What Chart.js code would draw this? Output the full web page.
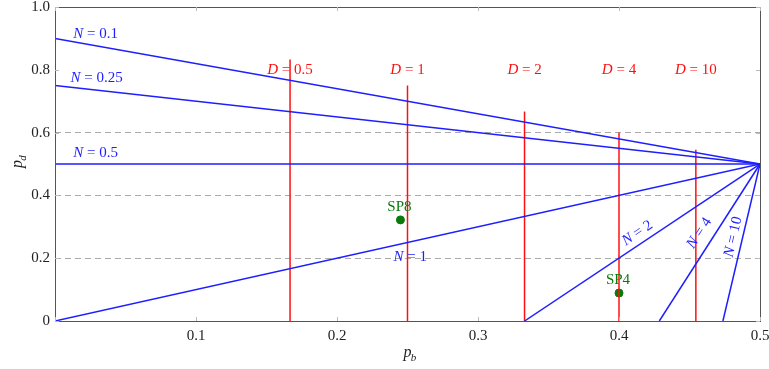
<!DOCTYPE html>
<html lang="en">
  <head>
    <meta charset="UTF-8" />
    <title>p_b vs p_d</title>
    <script src="https://cdn.jsdelivr.net/npm/chart.js"></script>
    <style>
      body { margin: 0; background: #fff; }
      #wrap { width: 769px; height: 369px; }
    </style>
  </head>
  <body>
    <div id="wrap"><canvas id="pChart"></canvas></div>
    <script>
      // N lines, all meet at (0.5, 0.5)
      const nNames = ["0.1", "0.25", "0.5", "1", "2", "4", "10"];
      const nStartX = [0, 0, 0, 0, 0.333, 0.4286, 0.4737];
      const nStartY = [0.9, 0.75, 0.5, 0, 0, 0, 0];
      const meetPoint = { x: 0.5, y: 0.5 };

      // D lines (vertical)
      const dNames = ["0.5", "1", "2", "4", "10"];
      const dX = [0.1667, 0.25, 0.333, 0.4, 0.4545];
      const dTop = [0.833, 0.75, 0.667, 0.6, 0.545];

      // sample points
      const spNames = ["SP8", "SP4"];
      const spX = [0.245, 0.4];
      const spY = [0.322, 0.089];

      const xTicks = [0, 0.1, 0.2, 0.3, 0.4, 0.5];
      const yTicks = [0, 0.2, 0.4, 0.6, 0.8, 1.0];
      const dashedY = [0.2, 0.4, 0.6];

      // label placement in data units
      const nLabelPos = [
        { x: 0.013, y: 0.914, rot: 0, align: "left" },
        { x: 0.011, y: 0.774, rot: 0, align: "left" },
        { x: 0.013, y: 0.535, rot: 0, align: "left" },
        { x: 0.252, y: 0.205, rot: 0, align: "center" },
        { x: 0.413, y: 0.28, rot: -34, align: "center" },
        { x: 0.457, y: 0.28, rot: -57, align: "center" },
        { x: 0.481, y: 0.268, rot: -77, align: "center" },
      ];
      const dLabelY = 0.8;

      const BLUE = "#1e1eff";
      const RED = "#ff1010";
      const GREEN = "#0a7a0a";
      const FONT = "'Liberation Serif', 'DejaVu Serif', serif";

      const datasets = [];
      nNames.forEach((n, i) => {
        datasets.push({
          label: "N = " + n,
          data: [{ x: nStartX[i], y: nStartY[i] }, meetPoint],
          showLine: true,
          borderColor: BLUE,
          borderWidth: 1.5,
          pointRadius: 0,
        });
      });
      dNames.forEach((d, i) => {
        datasets.push({
          label: "D = " + d,
          data: [{ x: dX[i], y: 0 }, { x: dX[i], y: dTop[i] }],
          showLine: true,
          borderColor: RED,
          borderWidth: 1.5,
          pointRadius: 0,
        });
      });
      datasets.push({
        label: "SP",
        data: spX.map((x, i) => ({ x: x, y: spY[i] })),
        showLine: false,
        backgroundColor: GREEN,
        borderColor: GREEN,
        pointRadius: 4,
      });

      function drawMath(ctx, parts, x, y, align) {
        // parts: [{t, italic, color}]
        let total = 0;
        parts.forEach((p) => {
          ctx.font = (p.italic ? "italic " : "") + "15px " + FONT;
          total += ctx.measureText(p.t).width;
        });
        let cx = align === "center" ? x - total / 2 : x;
        ctx.textAlign = "left";
        ctx.textBaseline = "middle";
        parts.forEach((p) => {
          ctx.font = (p.italic ? "italic " : "") + "15px " + FONT;
          ctx.fillStyle = p.color;
          ctx.fillText(p.t, cx, y);
          cx += ctx.measureText(p.t).width;
        });
      }

      const decorPlugin = {
        id: "decor",
        afterDatasetsDraw(chart) {
          const { ctx, chartArea: a, scales } = chart;
          const sx = scales.x, sy = scales.y;
          ctx.save();

          // frame
          ctx.strokeStyle = "#555";
          ctx.lineWidth = 1;
          ctx.strokeRect(a.left + 0.5, a.top + 0.5, a.right - a.left, a.bottom - a.top);

          // inward tick marks
          ctx.strokeStyle = "#bbb";
          xTicks.forEach((v) => {
            const px = Math.round(sx.getPixelForValue(v)) + 0.5;
            ctx.beginPath();
            ctx.moveTo(px, a.bottom); ctx.lineTo(px, a.bottom - 4);
            ctx.moveTo(px, a.top); ctx.lineTo(px, a.top + 4);
            ctx.stroke();
          });
          yTicks.forEach((v) => {
            const py = Math.round(sy.getPixelForValue(v)) + 0.5;
            ctx.beginPath();
            ctx.moveTo(a.left, py); ctx.lineTo(a.left + 4, py);
            ctx.moveTo(a.right, py); ctx.lineTo(a.right - 4, py);
            ctx.stroke();
          });

          // tick labels
          ctx.fillStyle = "#222";
          ctx.font = "15px " + FONT;
          ctx.textAlign = "center";
          ctx.textBaseline = "middle";
          xTicks.forEach((v) => {
            if (v === 0) return;
            ctx.fillText(v.toFixed(1), sx.getPixelForValue(v), a.bottom + 15);
          });
          ctx.textAlign = "right";
          yTicks.forEach((v) => {
            ctx.fillText(v === 0 ? "0" : v.toFixed(1), a.left - 5, sy.getPixelForValue(v));
          });

          // N labels
          nNames.forEach((n, i) => {
            const p = nLabelPos[i];
            ctx.save();
            ctx.translate(sx.getPixelForValue(p.x), sy.getPixelForValue(p.y));
            ctx.rotate((p.rot * Math.PI) / 180);
            drawMath(ctx, [
              { t: "N", italic: true, color: BLUE },
              { t: " = " + n, italic: false, color: BLUE },
            ], 0, 0, p.align);
            ctx.restore();
          });

          // D labels
          dNames.forEach((d, i) => {
            drawMath(ctx, [
              { t: "D", italic: true, color: RED },
              { t: " = " + d, italic: false, color: RED },
            ], sx.getPixelForValue(dX[i]), sy.getPixelForValue(dLabelY), "center");
          });

          // point labels
          ctx.font = "15px " + FONT;
          ctx.fillStyle = GREEN;
          ctx.textAlign = "center";
          ctx.textBaseline = "bottom";
          spNames.forEach((s, i) => {
            ctx.fillText(s, sx.getPixelForValue(spX[i]) - 1, sy.getPixelForValue(spY[i]) - 5);
          });

          // axis titles p_b and p_d
          ctx.fillStyle = "#222";
          const midX = (a.left + a.right) / 2;
          ctx.font = "italic 16px " + FONT;
          ctx.textAlign = "center";
          ctx.textBaseline = "alphabetic";
          ctx.fillText("p", midX, a.bottom + 36);
          ctx.font = "italic 11px " + FONT;
          ctx.fillText("b", midX + 6, a.bottom + 40);

          ctx.save();
          ctx.translate(22, (a.top + a.bottom) / 2);
          ctx.rotate(-Math.PI / 2);
          ctx.font = "italic 16px " + FONT;
          ctx.fillText("p", 0, 0);
          ctx.font = "italic 11px " + FONT;
          ctx.fillText("d", 6, 4);
          ctx.restore();

          ctx.restore();
        },
      };

      new Chart(document.getElementById("pChart"), {
        type: "scatter",
        data: { datasets: datasets },
        options: {
          responsive: true,
          maintainAspectRatio: false,
          animation: false,
          layout: { padding: { top: 7, right: 9, left: 0, bottom: 0 } },
          plugins: { legend: { display: false }, tooltip: { enabled: false } },
          scales: {
            x: {
              type: "linear",
              min: 0,
              max: 0.5,
              afterBuildTicks: (s) => { s.ticks = xTicks.map((v) => ({ value: v })); },
              afterFit: (s) => { s.height = 48; },
              grid: { display: false, drawTicks: false },
              border: { display: false },
              ticks: { display: false },
            },
            y: {
              type: "linear",
              min: 0,
              max: 1,
              afterBuildTicks: (s) => { s.ticks = yTicks.map((v) => ({ value: v })); },
              afterFit: (s) => { s.width = 55; },
              grid: {
                drawTicks: false,
                lineWidth: 1,
                color: (c) =>
                  dashedY.some((v) => Math.abs(v - c.tick.value) < 1e-6) ? "#aaa" : "rgba(0,0,0,0)",
              },
              border: { display: false, dash: [6, 4] },
              ticks: { display: false },
            },
          },
        },
        plugins: [decorPlugin],
      });
    </script>
  </body>
</html>
